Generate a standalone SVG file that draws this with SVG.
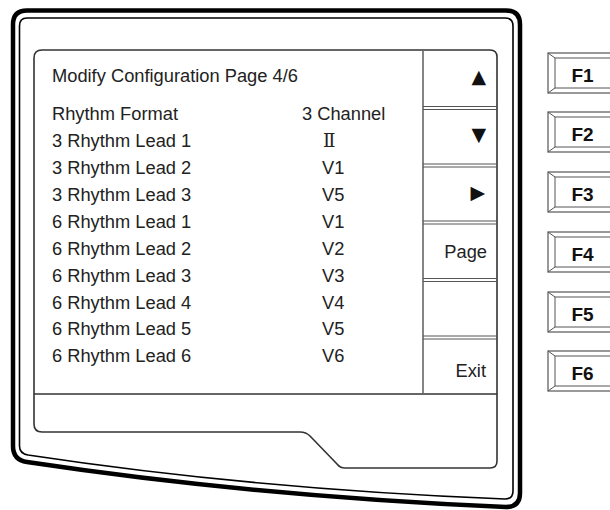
<svg xmlns="http://www.w3.org/2000/svg" width="610" height="510" viewBox="0 0 610 510">
<style>
.t{font-family:"Liberation Sans",Arial,sans-serif;font-size:18.3px;fill:#222}
.s{font-family:"Liberation Serif","DejaVu Serif",serif;font-size:18.3px;fill:#222}
.sym{font-family:"DejaVu Sans",sans-serif;font-size:19px;fill:#111}
.fk{font-family:"Liberation Sans",Arial,sans-serif;font-size:19px;font-weight:bold;fill:#111;text-anchor:middle}
.btn{fill:#fff;stroke:#555;stroke-width:1.2}
.bev{fill:none;stroke:#555;stroke-width:1}
.sep{stroke:#555;stroke-width:1}
</style>
<rect width="610" height="510" fill="#fff"/>
<g id="bezel">
<path d="M27,10.5 H506 Q520,10.5 520,24.5 V493 Q520,507 506,507 Q253,496 27,462 Q13,460 13,446 V24.5 Q13,10.5 27,10.5 Z" fill="none" stroke="#000" stroke-width="4.5"/>
<path d="M27,18 H505 Q513,18 513,26 V491 Q513,499 505,499 Q253,489 28,455 Q19.5,453.5 19.5,446 V26 Q19.5,18 27,18 Z" fill="none" stroke="#000" stroke-width="1.6"/>
</g>
<g id="screen">
<path d="M42,50 H490 Q497,50 497,57 V461 Q497,468 490,468 H345 Q340,468 337,464 L310,436 Q306,432 300,432 H42 Q34,432 34,424 V58 Q34,50 42,50 Z" fill="none" stroke="#333" stroke-width="1.6"/>
<line x1="34" y1="394" x2="497" y2="394" stroke="#333" stroke-width="1.6"/>
<line x1="423" y1="50" x2="423" y2="394" stroke="#666" stroke-width="1.6"/>
</g>
<g id="softkeys">
<line class="sep" x1="423" y1="106.5" x2="497" y2="106.5"/><line class="sep" x1="423" y1="109.5" x2="497" y2="109.5"/>
<line class="sep" x1="423" y1="164" x2="497" y2="164"/><line class="sep" x1="423" y1="167" x2="497" y2="167"/>
<line class="sep" x1="423" y1="221" x2="497" y2="221"/><line class="sep" x1="423" y1="224" x2="497" y2="224"/>
<line class="sep" x1="423" y1="278.5" x2="497" y2="278.5"/><line class="sep" x1="423" y1="281.5" x2="497" y2="281.5"/>
<line class="sep" x1="423" y1="336" x2="497" y2="336"/><line class="sep" x1="423" y1="339" x2="497" y2="339"/>
<text class="sym" x="486" y="83" text-anchor="end">▲</text>
<text class="sym" x="486" y="141" text-anchor="end">▼</text>
<text class="sym" x="485" y="199" text-anchor="end" font-size="15">▶</text>
<text class="t" x="487" y="258" text-anchor="end">Page</text>
<text class="t" x="486" y="377" text-anchor="end">Exit</text>
</g>
<g id="content">
<text class="t" x="52" y="82">Modify Configuration Page 4/6</text>
<text class="t" x="52" y="120">Rhythm Format</text>
<text class="t" x="52" y="147">3 Rhythm Lead 1</text>
<text class="t" x="52" y="174">3 Rhythm Lead 2</text>
<text class="t" x="52" y="201">3 Rhythm Lead 3</text>
<text class="t" x="52" y="228">6 Rhythm Lead 1</text>
<text class="t" x="52" y="254.5">6 Rhythm Lead 2</text>
<text class="t" x="52" y="281.5">6 Rhythm Lead 3</text>
<text class="t" x="52" y="308.5">6 Rhythm Lead 4</text>
<text class="t" x="52" y="335">6 Rhythm Lead 5</text>
<text class="t" x="52" y="362">6 Rhythm Lead 6</text>
<text class="t" x="302" y="120">3 Channel</text>
<text class="s" x="323" y="147">Ⅱ</text>
<text class="t" x="322" y="174">V1</text>
<text class="t" x="322" y="201">V5</text>
<text class="t" x="322" y="228">V1</text>
<text class="t" x="322" y="254.5">V2</text>
<text class="t" x="322" y="281.5">V3</text>
<text class="t" x="322" y="308.5">V4</text>
<text class="t" x="322" y="335">V5</text>
<text class="t" x="322" y="362">V6</text>
</g>
<g id="F1"><rect class="btn" x="548" y="53" width="70" height="40"/><rect class="bev" x="555" y="58" width="56" height="30"/><path class="bev" d="M548,53 L555,58 M548,93 L555,88"/><text class="fk" x="582.5" y="82">F1</text></g>
<g id="F2"><rect class="btn" x="548" y="112" width="70" height="40"/><rect class="bev" x="555" y="117" width="56" height="30"/><path class="bev" d="M548,112 L555,117 M548,152 L555,147"/><text class="fk" x="582.5" y="141">F2</text></g>
<g id="F3"><rect class="btn" x="548" y="172" width="70" height="40"/><rect class="bev" x="555" y="177" width="56" height="30"/><path class="bev" d="M548,172 L555,177 M548,212 L555,207"/><text class="fk" x="582.5" y="201">F3</text></g>
<g id="F4"><rect class="btn" x="548" y="232" width="70" height="40"/><rect class="bev" x="555" y="237" width="56" height="30"/><path class="bev" d="M548,232 L555,237 M548,272 L555,267"/><text class="fk" x="582.5" y="261">F4</text></g>
<g id="F5"><rect class="btn" x="548" y="292" width="70" height="40"/><rect class="bev" x="555" y="297" width="56" height="30"/><path class="bev" d="M548,292 L555,297 M548,332 L555,327"/><text class="fk" x="582.5" y="321">F5</text></g>
<g id="F6"><rect class="btn" x="548" y="351" width="70" height="40"/><rect class="bev" x="555" y="356" width="56" height="30"/><path class="bev" d="M548,351 L555,356 M548,391 L555,386"/><text class="fk" x="582.5" y="380">F6</text></g>
</svg>
